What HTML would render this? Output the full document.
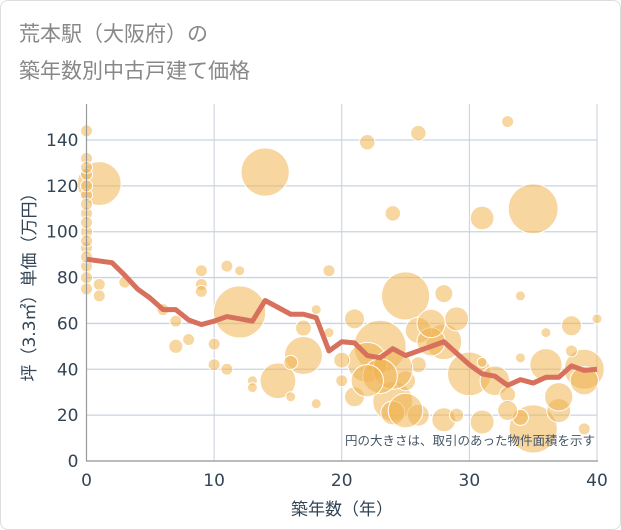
<!DOCTYPE html>
<html><head><meta charset="utf-8"><style>
body{margin:0;background:#fff;font-family:"DejaVu Sans","Noto Sans CJK JP",sans-serif}
#wrap{position:relative;width:619px;height:528px;border:1px solid #ddd;border-radius:8px;overflow:hidden}
</style></head><body>
<div id="wrap">
<svg id="chart" width="621" height="530" font-family="DejaVu Sans, Noto Sans CJK JP, sans-serif">
<text x="18" y="40" font-size="21" fill="#888">荒本駅（大阪府）の</text>
<text x="18" y="77" font-size="21" fill="#888">築年数別中古戸建て価格</text>
<g id="grid"></g><g id="bubbles"></g><g id="line"></g><g id="axes"></g>
<text x="594" y="444" font-size="12.5" fill="#456" text-anchor="end">円の大きさは、取引のあった物件面積を示す</text>
<text x="341" y="514" font-size="17" fill="#345" text-anchor="middle">築年数（年）</text>
<text transform="translate(34,282) rotate(-90)" font-size="17" fill="#345" text-anchor="middle">坪（3.3㎡）単価（万円）</text>
</svg>
</div>
<script>
const xTicks=[0,10,20,30,40];
const yTicks=[0,20,40,60,80,100,120,140];
const lineYears=[0,2,3,4,5,6,7,8,9,10,11,12,13,14,15,16,17,18,19,20,21,22,23,24,25,26,27,28,29,30,31,32,33,34,35,36,37,38,39,40];
const lineValues=[88,86.5,81,75,71,66,66,61.5,59.5,61,63,62,61,70,67,64,64,62.5,48,52,51.5,46,45,49,46,48,50,52,47,42,38,37,33,35.5,34,36.5,36.5,41.5,39.5,40];
const bubbleYears=[1,14,35,12,25,23,30,24,35,17,15,28,39,36,22,31,26,22,33,24,0,19,11,12,9,9,9,7,8,7,10,10,11,3,1,1,6,0,0,0,0,0,0,0,0,26,21,20,25,28,27,29,32,31,26,28,37,38,40,34,36,19,18,18,16,21,24,34,39,31,34,17,13,13,33,26,16,20,29,38,0,0,0,0,0,0,0,24,25,23,22,27,37,39,33];
const bubbleValues=[121,126,110,65,72,50,38,26,14,46,35,52,40,42,43,106,143,139,148,108,144,83,85,83,83,77,74,61,53,50,51,42,40,78,77,72,66,132,125,116,108,100,93,85,80,57,62,44,35,73,52,62,35,17,20,18,22,59,62,72,56,56,66,25,28,28,21,19,14,43,45,58,35,32,29,42,43,35,20,48,128,120,112,104,96,89,75,40,22,37,35,60,28,35,22];
const bubbleAreas=[480,580,620,680,580,680,480,400,580,360,320,320,400,260,400,140,60,60,36,60,36,36,36,25,36,36,36,36,36,50,36,36,36,36,36,36,36,36,36,36,36,36,36,36,36,170,100,64,100,80,200,144,220,144,120,144,144,100,25,25,25,25,25,25,25,100,144,64,36,25,25,64,25,25,64,64,50,36,50,36,36,36,36,36,36,36,36,400,300,300,260,200,200,200,100];
const NS="http://www.w3.org/2000/svg";
const X0=85.5,X1=596,Y0=460,YT=103;
const xs=v=>X0+(X1-X0)*v/40;
const ys=v=>Y0-v*(Y0-139)/140;
function mk(t,a,p){const e=document.createElementNS(NS,t);for(const k in a)e.setAttribute(k,a[k]);p.appendChild(e);return e;}
const grid=document.getElementById('grid'),axes=document.getElementById('axes');
yTicks.forEach(t=>{
 const l=mk('line',{x1:X0,x2:X1,y1:ys(t),y2:ys(t),stroke:'#c8d4e2','stroke-width':1.3},grid);
 
 
 const tx=mk('text',{x:X0-8,y:ys(t)+6,'font-size':17,fill:'#345','text-anchor':'end'},axes);
 tx.textContent=t;
 
 
});
xTicks.forEach(t=>{
 const l=mk('line',{x1:xs(t),x2:xs(t),y1:YT,y2:Y0,stroke:'#c8d0da','stroke-width':1},grid);
 
 
 const tx=mk('text',{x:xs(t),y:Y0+25,'font-size':17,fill:'#345','text-anchor':'middle'},axes);
 tx.textContent=t;
 
 
});
const fr=mk('path',{d:`M${X0},${YT}V${Y0}H${X1+1}`,fill:'none',stroke:'#999','stroke-width':1.2},axes);


const bg=document.getElementById('bubbles');
bubbleYears.forEach((yr,i)=>{
 const c=mk('circle',{cx:xs(yr),cy:ys(bubbleValues[i]),r:Math.sqrt(bubbleAreas[i]),fill:'#f0b452','fill-opacity':0.55,stroke:'#fff','stroke-width':1},bg);
 
 
});
const pts=lineYears.map((yr,i)=>xs(yr)+','+ys(lineValues[i])).join(' ');
const pl=mk('polyline',{points:pts,fill:'none',stroke:'#d7705c','stroke-width':5,'stroke-linejoin':'round'},document.getElementById('line'));


</script>
</body></html>
